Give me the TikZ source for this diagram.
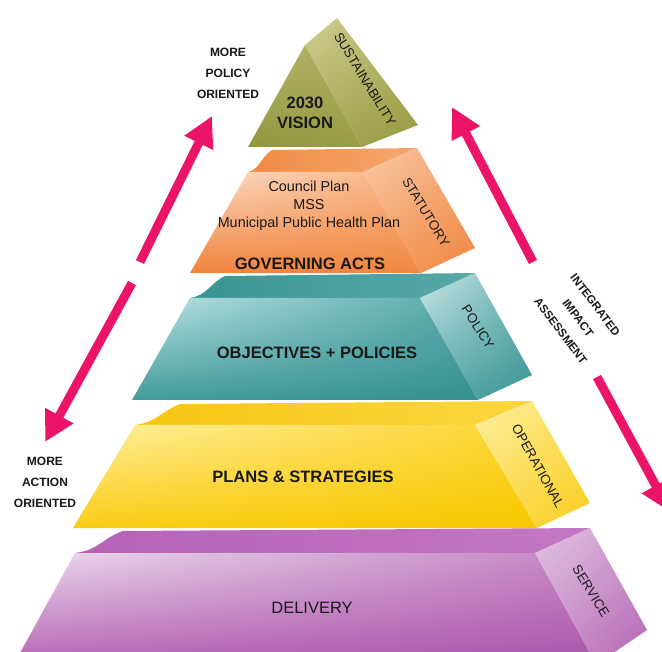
\documentclass[tikz,border=0pt]{standalone}
\usepackage{fontspec}
\setmainfont{Liberation Sans}
\usetikzlibrary{arrows.meta,shadings}
\definecolor{pinkarrow}{RGB}{236,20,104}
\definecolor{txt}{RGB}{25,25,25}
% olive
\definecolor{olFUL}{RGB}{182,182,110}\definecolor{olFUR}{RGB}{170,172,92}
\definecolor{olFLL}{RGB}{145,150,60}\definecolor{olFLR}{RGB}{155,158,70}
\definecolor{olSUL}{RGB}{208,206,145}\definecolor{olSUR}{RGB}{182,182,102}
\definecolor{olSLL}{RGB}{168,168,88}\definecolor{olSLR}{RGB}{150,152,66}
% orange
\definecolor{orTL}{RGB}{240,138,68}\definecolor{orTR}{RGB}{246,168,112}
\definecolor{orFUL}{RGB}{252,222,200}\definecolor{orFUR}{RGB}{248,176,126}
\definecolor{orFLL}{RGB}{240,130,60}\definecolor{orFLR}{RGB}{240,136,66}
\definecolor{orSUL}{RGB}{250,202,168}\definecolor{orSUR}{RGB}{245,166,112}
\definecolor{orSLL}{RGB}{244,160,100}\definecolor{orSLR}{RGB}{238,134,64}
% teal
\definecolor{teTL}{RGB}{58,148,148}\definecolor{teTR}{RGB}{88,168,168}
\definecolor{teFUL}{RGB}{190,228,228}\definecolor{teFUR}{RGB}{82,166,166}
\definecolor{teFLL}{RGB}{66,155,155}\definecolor{teFLR}{RGB}{55,145,145}
\definecolor{teSUL}{RGB}{205,232,232}\definecolor{teSUR}{RGB}{112,182,182}
\definecolor{teSLL}{RGB}{92,170,170}\definecolor{teSLR}{RGB}{58,148,148}
% yellow
\definecolor{yeTL}{RGB}{248,198,18}\definecolor{yeTR}{RGB}{250,214,62}
\definecolor{yeFUL}{RGB}{255,240,160}\definecolor{yeFUR}{RGB}{251,212,48}
\definecolor{yeFLL}{RGB}{250,204,20}\definecolor{yeFLR}{RGB}{249,200,0}
\definecolor{yeSUL}{RGB}{255,240,165}\definecolor{yeSUR}{RGB}{252,222,90}
\definecolor{yeSLL}{RGB}{251,218,80}\definecolor{yeSLR}{RGB}{249,206,30}
% purple
\definecolor{puTL}{RGB}{182,98,182}\definecolor{puTR}{RGB}{195,120,195}
\definecolor{puFUL}{RGB}{236,218,236}\definecolor{puFUR}{RGB}{196,132,196}
\definecolor{puFLL}{RGB}{182,102,182}\definecolor{puFLR}{RGB}{170,86,170}
\definecolor{puSUL}{RGB}{226,196,226}\definecolor{puSUR}{RGB}{206,152,206}
\definecolor{puSLL}{RGB}{200,146,200}\definecolor{puSLR}{RGB}{180,102,180}
\tikzset{
  pyrarrow/.style={draw=pinkarrow, line width=9pt, -{Triangle[width=30pt,length=30pt]}},
  sidelbl/.style={font=\fontsize{13.3}{16}\selectfont, inner sep=0pt, text=txt},
  mainlbl/.style={font=\bfseries\fontsize{16.5}{20}\selectfont, inner sep=0pt, text=txt, align=center},
  notelbl/.style={font=\bfseries\fontsize{12}{21}\selectfont, inner sep=0pt, align=center, text=txt},
  facefront/.style n args={4}{upper left=#1, upper right=#2, lower left=#3, lower right=#4},
}
\begin{document}
\begin{tikzpicture}[x=1pt,y=-1pt]
\useasboundingbox (0,0) rectangle (662,652);
\clip (0,0) rectangle (662,652);
\fill[white] (0,0) rectangle (662,652);

% ---------- purple layer ----------
\shade[left color=puTL, right color=puTR] (75,553) -- (535,553) -- (590,528) -- (123,531) .. controls +(-22,8) and +(24,-3) .. (75,553) -- cycle;
\shade[facefront={puFUL}{puFUR}{puFLL}{puFLR}] (75,553) -- (535,553) -- (595,662) -- (15,662) -- cycle;
\shade[facefront={puSUL}{puSUR}{puSLL}{puSLR}] (535,553) -- (590,528) -- (647,630) -- (600,662) -- (595,662) -- cycle;

% ---------- yellow layer ----------
\shade[left color=yeTL, right color=yeTR] (135,425) -- (475,425) -- (532,401) -- (180,404) .. controls +(-20,8) and +(22,-3) .. (135,425) -- cycle;
\shade[facefront={yeFUL}{yeFUR}{yeFLL}{yeFLR}] (135,425) -- (475,425) -- (537,528) -- (73,528) -- cycle;
\shade[facefront={yeSUL}{yeSUR}{yeSLL}{yeSLR}] (475,425) -- (532,401) -- (590,503) -- (537,528) -- cycle;

% ---------- teal layer ----------
\shade[left color=teTL, right color=teTR] (190,298) -- (420,298) -- (475,273) -- (225,276) .. controls +(-16,8) and +(18,-3) .. (190,298) -- cycle;
\shade[facefront={teFUL}{teFUR}{teFLL}{teFLR}] (190,298) -- (420,298) -- (478,400) -- (132,400) -- cycle;
\shade[facefront={teSUL}{teSUR}{teSLL}{teSLR}] (420,298) -- (475,273) -- (532,375) -- (478,400) -- cycle;

% ---------- orange layer ----------
\shade[left color=orTL, right color=orTR] (248,172) -- (363,172) -- (417,148) -- (272,150) .. controls +(-12,8) and +(12,-3) .. (248,172) -- cycle;
\shade[facefront={orFUL}{orFUR}{orFLL}{orFLR}] (248,172) -- (363,172) -- (421,273) -- (190,273) -- cycle;
\shade[facefront={orSUL}{orSUR}{orSLL}{orSLR}] (363,172) -- (417,148) -- (475,248) -- (421,273) -- cycle;

% ---------- olive top ----------
\shade[facefront={olFUL}{olFUR}{olFLL}{olFLR}] (305,45) -- (362,147) -- (248,147) -- cycle;
\shade[facefront={olSUL}{olSUR}{olSLL}{olSLR}] (305,45) -- (337,18) -- (418,125) -- (362,147) -- cycle;

% ---------- labels ----------
\node[mainlbl] (vision) at (305,113) {2030\\VISION};
\node[sidelbl, rotate=-58.7] (sust) at (365,79) {SUSTAINABILITY};
\node[font=\fontsize{14.4}{18}\selectfont, inner sep=0pt, align=center, text=txt] (gov) at (309,206) {Council Plan\\MSS\\Municipal Public Health Plan};
\node[mainlbl] (govacts) at (310,264) {GOVERNING ACTS};
\node[sidelbl, rotate=-58.7] (stat) at (426,212) {STATUTORY};
\node[mainlbl] (obj) at (317,353) {OBJECTIVES + POLICIES};
\node[sidelbl, rotate=-58] (pol) at (478,327) {POLICY};
\node[mainlbl] (plans) at (303,477) {PLANS \& STRATEGIES};
\node[sidelbl, rotate=-61] (oper) at (538,466) {OPERATIONAL};
\node[mainlbl, font=\fontsize{16.5}{20}\selectfont] (deliv) at (312,608) {DELIVERY};
\node[sidelbl, rotate=-58.5] (serv) at (591,591) {SERVICE};

\node[notelbl] (policyor) at (228,73) {MORE\\POLICY\\ORIENTED};
\node[notelbl] (actionor) at (45,482) {MORE\\ACTION\\ORIENTED};
\node[notelbl, font=\bfseries\fontsize{11.5}{21.6}\selectfont, rotate=-53] (iia) at (578,318) {INTEGRATED\\IMPACT\\ASSESSMENT};

% ---------- arrows ----------
\coordinate (la1s) at (140,262);
\coordinate (la1e) at (212,116);
\coordinate (la2s) at (132,283);
\coordinate (la2e) at (45,442);
\coordinate (ra1s) at (533,262);
\coordinate (ra1e) at (452,107);
\coordinate (ra2s) at (597,377);
\coordinate (ra2e) at (670,512);
\draw[pyrarrow] (la1s) -- (la1e);
\draw[pyrarrow] (la2s) -- (la2e);
\draw[pyrarrow] (ra1s) -- (ra1e);
\draw[pyrarrow] (ra2s) -- (ra2e);
\end{tikzpicture}
\end{document}
